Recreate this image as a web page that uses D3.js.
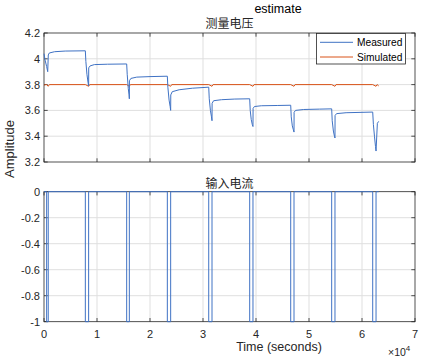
<!DOCTYPE html>
<html><head><meta charset="utf-8">
<script src="https://cdn.jsdelivr.net/npm/d3@7"></script>
<style>html,body{margin:0;padding:0;background:#fff;}svg{display:block;}</style>
</head><body>
<svg id="c" width="425" height="363"></svg>
<script>
// ---- data ----
const xTicks = [0, 10000, 20000, 30000, 40000, 50000, 60000, 70000];
const xTickLabels = ["0", "1", "2", "3", "4", "5", "6", "7"];
const vTicks = [3.2, 3.4, 3.6, 3.8, 4.0, 4.2];
const vTickLabels = ["3.2", "3.4", "3.6", "3.8", "4", "4.2"];
const iTicks = [-1, -0.8, -0.6, -0.4, -0.2, 0];
const iTickLabels = ["-1", "-0.8", "-0.6", "-0.4", "-0.2", "0"];
const seriesNames = ["Measured", "Simulated"];

const measuredTime = [0, 200, 500, 700, 810, 1000, 2000, 4000, 7800,
  7900, 8100, 8300, 8420, 8440, 8700, 9500, 12000, 15600,
  15700, 15900, 16050, 16100, 16120, 16400, 17500, 20000, 23270,
  23370, 23600, 23800, 23900, 23920, 24200, 25500, 28000, 31080,
  31180, 31400, 31600, 31700, 31720, 32000, 33500, 36000, 38810,
  38910, 39100, 39300, 39430, 39450, 39700, 41000, 44000, 46550,
  46650, 46850, 47050, 47170, 47190, 47450, 49000, 52000, 54280,
  54380, 54600, 54800, 54900, 54920, 55200, 57000, 60000, 62020,
  62150, 62350, 62550, 62650, 62900, 63150];
const measuredVolt = [4.04, 3.99, 3.94, 3.90, 4.03, 4.045, 4.055, 4.06, 4.062,
  3.98, 3.88, 3.82, 3.79, 3.93, 3.945, 3.955, 3.958, 3.96,
  3.88, 3.77, 3.72, 3.69, 3.83, 3.848, 3.858, 3.862, 3.865,
  3.78, 3.68, 3.63, 3.60, 3.72, 3.745, 3.76, 3.772, 3.78,
  3.69, 3.60, 3.55, 3.52, 3.655, 3.675, 3.683, 3.688, 3.69,
  3.60, 3.53, 3.49, 3.475, 3.615, 3.63, 3.636, 3.638, 3.64,
  3.55, 3.48, 3.45, 3.432, 3.585, 3.60, 3.607, 3.61, 3.612,
  3.52, 3.44, 3.40, 3.386, 3.56, 3.575, 3.582, 3.585, 3.587,
  3.49, 3.40, 3.32, 3.285, 3.50, 3.515];

const simulatedTime = [0, 300, 500, 800, 1000, 7800, 8420, 8620, 15600, 16100, 16300,
  23270, 23900, 24100, 31080, 31700, 31900, 38810, 39430, 39630,
  46550, 47170, 47370, 54280, 54900, 55100, 62020, 62650, 62850, 63150];
const simulatedVolt = [3.795, 3.80, 3.80, 3.787, 3.80, 3.80, 3.787, 3.80, 3.80, 3.787, 3.80,
  3.80, 3.787, 3.80, 3.80, 3.787, 3.80, 3.80, 3.787, 3.80,
  3.80, 3.787, 3.80, 3.80, 3.787, 3.80, 3.80, 3.787, 3.80, 3.79];

// current: step-after change points
const currentTime = [0, 500, 800, 7800, 8420, 15600, 16100, 23270, 23900, 31080, 31700,
  38810, 39430, 46550, 47170, 54280, 54900, 62020, 62650, 63150];
const currentValue = [0, -1, 0, -1, 0, -1, 0, -1, 0, -1, 0,
  -1, 0, -1, 0, -1, 0, -1, 0, 0];

// ---- layout ----
const L = 44, R = 415;
const top1 = 33, bot1 = 162, top2 = 191.7, bot2 = 321.7;
const axisColor = "#262626", gridColor = "#dfdfdf";
const blue = "#3f72c4", red = "#D95319";
const svg = d3.select("#c");
const font = "'Liberation Sans', Arial, Helvetica, sans-serif";
const cjk = "'Noto Sans CJK SC', 'Liberation Sans', sans-serif";

const x = d3.scaleLinear().domain([0, 70000]).range([L, R]);
const y1 = d3.scaleLinear().domain([3.2, 4.2]).range([bot1, top1]);
const y2 = d3.scaleLinear().domain([-1, 0]).range([bot2, top2]);

function panel(y, ticks, labels, top, bot, showX) {
  const g = svg.append("g");
  // grid
  xTicks.slice(1, -1).forEach(t => g.append("line")
    .attr("x1", x(t)).attr("x2", x(t)).attr("y1", top).attr("y2", bot)
    .attr("stroke", gridColor).attr("stroke-width", 1));
  ticks.slice(1, -1).forEach(t => g.append("line")
    .attr("x1", L).attr("x2", R).attr("y1", y(t)).attr("y2", y(t))
    .attr("stroke", gridColor).attr("stroke-width", 1));
  // box
  g.append("rect").attr("x", L).attr("y", top).attr("width", R - L).attr("height", bot - top)
    .attr("fill", "none").attr("stroke", axisColor).attr("stroke-width", 0.8);
  // ticks inside (all four sides)
  const tl = 3.7;
  xTicks.forEach(t => {
    g.append("line").attr("x1", x(t)).attr("x2", x(t)).attr("y1", bot).attr("y2", bot - tl)
      .attr("stroke", axisColor).attr("stroke-width", 0.8);
    g.append("line").attr("x1", x(t)).attr("x2", x(t)).attr("y1", top).attr("y2", top + tl)
      .attr("stroke", axisColor).attr("stroke-width", 0.8);
  });
  ticks.forEach((t, i) => {
    g.append("line").attr("x1", L).attr("x2", L + tl).attr("y1", y(t)).attr("y2", y(t))
      .attr("stroke", axisColor).attr("stroke-width", 0.8);
    g.append("line").attr("x1", R).attr("x2", R - tl).attr("y1", y(t)).attr("y2", y(t))
      .attr("stroke", axisColor).attr("stroke-width", 0.8);
    g.append("text").attr("x", L - 4).attr("y", y(t)).attr("dy", "0.36em")
      .attr("text-anchor", "end").attr("font-family", font).attr("font-size", 11)
      .attr("fill", axisColor).text(labels[i]);
  });
  if (showX) {
    xTicks.forEach((t, i) => g.append("text").attr("x", x(t)).attr("y", bot + 16)
      .attr("text-anchor", "middle").attr("font-family", font).attr("font-size", 11)
      .attr("fill", axisColor).text(xTickLabels[i]));
  }
  return g;
}

panel(y1, vTicks, vTickLabels, top1, bot1, false);
panel(y2, iTicks, iTickLabels, top2, bot2, true);

// lines
const lineV = d3.line().x(d => x(d[0])).y(d => y1(d[1]));
svg.append("path").datum(simulatedTime.map((t, i) => [t, simulatedVolt[i]]))
  .attr("d", lineV).attr("fill", "none").attr("stroke", red).attr("stroke-width", 1);
svg.append("path").datum(measuredTime.map((t, i) => [t, measuredVolt[i]]))
  .attr("d", lineV).attr("fill", "none").attr("stroke", blue).attr("stroke-width", 1);
const lineI = d3.line().x(d => x(d[0])).y(d => y2(d[1])).curve(d3.curveStepAfter);
svg.append("path").datum(currentTime.map((t, i) => [t, currentValue[i]]))
  .attr("d", lineI).attr("fill", "none").attr("stroke", blue).attr("stroke-width", 1);

// titles
svg.append("text").attr("x", 278).attr("y", 13).attr("text-anchor", "middle")
  .attr("font-family", font).attr("font-size", 12.5).attr("fill", "#000").text("estimate");
svg.append("text").attr("x", (L + R) / 2).attr("y", 28).attr("text-anchor", "middle")
  .attr("font-family", cjk).attr("font-size", 12).attr("fill", axisColor).text("测量电压");
svg.append("text").attr("x", (L + R) / 2).attr("y", 187.5).attr("text-anchor", "middle")
  .attr("font-family", cjk).attr("font-size", 12).attr("fill", axisColor).text("输入电流");
svg.append("text").attr("transform", "translate(13.5,149) rotate(-90)").attr("text-anchor", "middle")
  .attr("font-family", font).attr("font-size", 13).attr("fill", axisColor).text("Amplitude");
svg.append("text").attr("x", 279).attr("y", 351).attr("text-anchor", "middle")
  .attr("font-family", font).attr("font-size", 12.5).attr("fill", axisColor).text("Time (seconds)");
const ex = svg.append("text").attr("x", 388).attr("y", 356)
  .attr("font-family", font).attr("font-size", 10.5).attr("fill", axisColor);
ex.append("tspan").text("×10");
ex.append("tspan").attr("dy", -5).attr("font-size", 8).text("4");

// legend
const lg = svg.append("g");
lg.append("rect").attr("x", 316.5).attr("y", 33.5).attr("width", 89).attr("height", 30.5)
  .attr("fill", "#fff").attr("stroke", axisColor).attr("stroke-width", 0.8);
[[blue, 42.3, 46.3], [red, 57, 61]].forEach((d, i) => {
  lg.append("line").attr("x1", 320).attr("x2", 353).attr("y1", d[1]).attr("y2", d[1])
    .attr("stroke", d[0]).attr("stroke-width", 1);
  lg.append("text").attr("x", 357).attr("y", d[2]).attr("font-family", font)
    .attr("font-size", 10.2).attr("fill", "#000").text(seriesNames[i]);
});
</script>
</body></html>
